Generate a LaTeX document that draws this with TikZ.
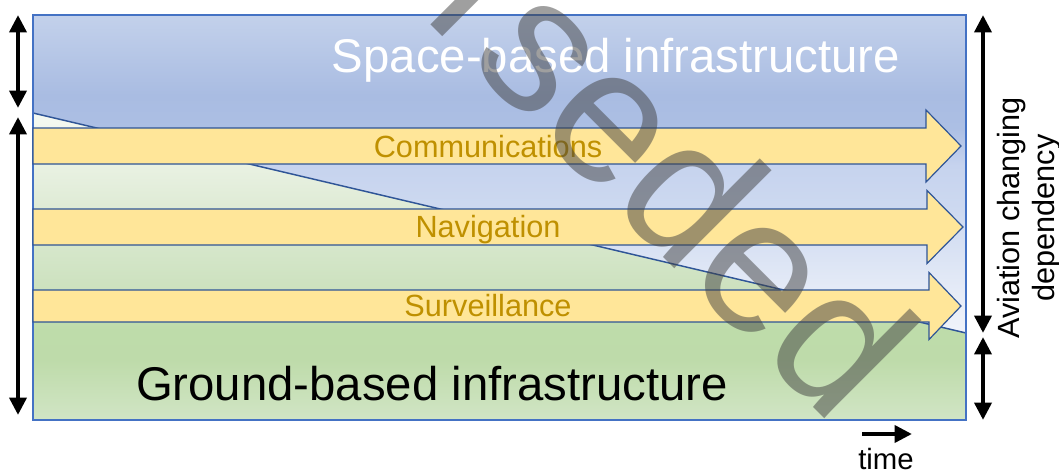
\documentclass[tikz,border=0pt]{standalone}
\usepackage{fontspec}
\setmainfont{Liberation Sans}
\usetikzlibrary{arrows.meta}

\definecolor{frameblue}{RGB}{68,114,196}
\definecolor{edgeblue}{RGB}{47,85,151}
\definecolor{bandyellow}{RGB}{255,230,153}
\definecolor{bandtext}{RGB}{191,144,0}
% space side, bottom to top
\definecolor{sa}{RGB}{240,243,250}
\definecolor{sb}{RGB}{229,235,247}
\definecolor{sc}{RGB}{205,217,240}
\definecolor{sd}{RGB}{198,211,238}
\definecolor{se}{RGB}{172,191,228}
\definecolor{sf}{RGB}{169,188,226}
\definecolor{sg}{RGB}{195,209,235}
% ground side, bottom to top
\definecolor{ga}{RGB}{209,229,197}
\definecolor{gb}{RGB}{190,219,170}
\definecolor{gc}{RGB}{190,220,170}
\definecolor{gd}{RGB}{204,225,190}
\definecolor{ge}{RGB}{214,231,203}
\definecolor{gf}{RGB}{223,235,214}
\definecolor{gg}{RGB}{232,241,225}
\definecolor{gh}{RGB}{245,249,242}

\pgfdeclareverticalshading{spaceshade}{100bp}{color(0bp)=(sa); color(25bp)=(sa);
  color(31.8bp)=(sb); color(44.3bp)=(sc); color(51.4bp)=(sd); color(57.2bp)=(se);
  color(62.4bp)=(sf); color(75bp)=(sg); color(100bp)=(sg)}
\pgfdeclareverticalshading{groundshade}{100bp}{color(0bp)=(ga); color(25bp)=(ga);
  color(34.8bp)=(gb); color(39.7bp)=(gc); color(46.2bp)=(gd); color(53.5bp)=(ge);
  color(60bp)=(gf); color(65.7bp)=(gg); color(75bp)=(gh); color(100bp)=(gh)}

\begin{document}
\begin{tikzpicture}[x=0.75pt,y=-0.75pt,
  band/.style={draw=edgeblue,line width=0.9pt,fill=bandyellow,line join=miter},
  bandlabel/.style={text=bandtext,font=\fontsize{23}{26}\selectfont,anchor=base,inner sep=0pt},
  infra/.style={font=\fontsize{35.5}{40}\selectfont,anchor=base,inner sep=0pt},
  bigtip/.tip={Triangle[length=13pt,width=12.5pt]},
  dep/.style={line width=3.6pt,bigtip-bigtip},
  watermark/.style={text=black!75,text opacity=0.5,font=\fontsize{143}{150}\selectfont,inner sep=0pt,rotate=-45}]
\useasboundingbox (0,0) rectangle (1059,471);

\coordinate (tl) at (33,15);
\coordinate (tr) at (966,15);
\coordinate (br) at (966,420);
\coordinate (bl) at (33,420);
\coordinate (dl) at (33,113);
\coordinate (dr) at (966,333);

\shade[shading=spaceshade] (tl) -- (tr) -- (dr) -- (dl) -- cycle;
\shade[shading=groundshade] (dl) -- (dr) -- (br) -- (bl) -- cycle;
\draw[edgeblue,line width=1.1pt] (dl) -- (dr);
\draw[frameblue,line width=1pt] (tl) rectangle (br);

\foreach \name/\yc/\bh/\hh/\bx/\tx/\yb/\txt in {comm/146/18/36/926/961/157/Communications,nav/227/18/36.5/927/963/237.5/Navigation,surv/306/16/33.5/929/961/316.5/Surveillance}
{
\draw[band] (33,\yc-\bh) -- (\bx,\yc-\bh) -- (\bx,\yc-\hh) -- (\tx,\yc) -- (\bx,\yc+\hh) -- (\bx,\yc+\bh) -- (33,\yc+\bh) -- cycle;
\node[bandlabel] (\name) at (488,\yb) {\txt};
}

\node[infra,text=white] (space) at (616,72) {Space-based infrastructure};
\node[infra] (ground) at (432,400) {Ground-based infrastructure};

\begin{scope}
\clip (0,0) rectangle (1059,471);
\node[watermark] (stamp) at (505,29) {Superseded};
\end{scope}

\coordinate (la) at (18,15);
\coordinate (lb) at (18,108);
\coordinate (lc) at (18,117);
\coordinate (ld) at (18,415);
\coordinate (ra) at (983,15);
\coordinate (rb) at (983,333);
\coordinate (rc) at (983,337);
\coordinate (rd) at (983,420);
\draw[dep] (la) -- (lb);
\draw[dep] (lc) -- (ld);
\draw[dep] (ra) -- (rb);
\draw[dep] (rc) -- (rd);

\node[rotate=90,align=center,font=\fontsize{23}{26}\selectfont,inner sep=0pt] (aviation) at (1029,218) {Aviation changing\\dependency};

\coordinate (t0) at (862,434);
\coordinate (t1) at (912,434);
\draw[line width=3.6pt,-bigtip] (t0) -- (t1);
\node[font=\fontsize{22}{24}\selectfont,inner sep=0pt] (time) at (886,459) {time};
\end{tikzpicture}
\end{document}
